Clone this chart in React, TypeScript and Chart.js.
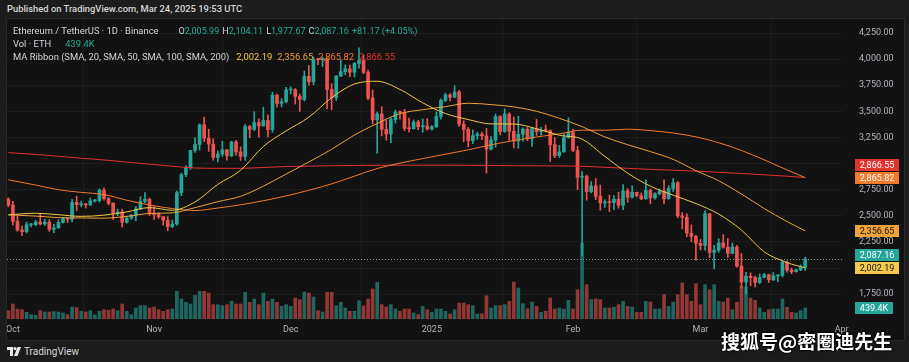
import React, { useEffect, useRef } from 'react';
import { Chart, registerables } from 'chart.js';

Chart.register(...registerables);

// Days are counted from Oct 1, 2024 (= 0). First candle is Sep 30, 2024.
const firstDay = -1;

// ETH/USDT daily candles, Sep 30 2024 .. Mar 24 2025
const opens = [
  2659,
  2603, 2447, 2364, 2349, 2414, 2415, 2441, 2422, 2440, 2371, 2385, 2437, 2476, 2469, 2629, 2607, 2611, 2604, 2643, 2647, 2747, 2665, 2621, 2525, 2536, 2438, 2478, 2507, 2567, 2639, 2659,
  2518, 2513, 2492, 2458, 2397, 2422, 2722, 2895, 2962, 3127, 3183, 3372, 3243, 3187, 3059, 3091, 3132, 3075, 3207, 3112, 3070, 3355, 3327, 3393, 3361, 3413, 3326, 3655, 3576, 3592,
  3705, 3707, 3643, 3614, 3835, 3784, 3998, 3995, 4006, 3711, 3629, 3837, 3880, 3907, 3874, 3958, 3986, 3874, 3627, 3419, 3475, 3328, 3284, 3421, 3493, 3488, 3336, 3334, 3397, 3353, 3360,
  3332, 3353, 3451, 3605, 3657, 3636, 3685, 3378, 3328, 3220, 3267, 3282, 3266, 3138, 3225, 3451, 3307, 3474, 3310, 3216, 3280, 3330, 3240, 3337, 3307, 3318, 3316, 3180, 3077, 3112, 3249,
  3300, 3125, 2869, 2880, 2732, 2786, 2686, 2624, 2632, 2627, 2659, 2601, 2738, 2677, 2725, 2693, 2662, 2744, 2672, 2712, 2738, 2663, 2762, 2817, 2500, 2486, 2335, 2302,
  2237, 2217, 2520, 2150, 2171, 2241, 2200, 2141, 2202, 2020, 1866, 1922, 1909, 1862, 1911, 1937, 1888, 1926, 1932, 2057, 1981, 1966, 1983, 2005.99,
];
const highs = [
  2673,
  2640, 2498, 2403, 2441, 2428, 2456, 2521, 2467, 2464, 2418, 2463, 2485, 2479, 2659, 2689, 2642, 2620, 2672, 2659, 2759, 2769, 2674, 2625, 2565, 2564, 2497, 2511, 2590, 2683, 2722, 2671,
  2590, 2530, 2493, 2492, 2460, 2737, 2909, 2982, 3128, 3248, 3380, 3446, 3330, 3238, 3122, 3214, 3137, 3215, 3222, 3160, 3374, 3366, 3497, 3428, 3540, 3466, 3683, 3666, 3622, 3730,
  3734, 3719, 3665, 3886, 3941, 4021, 4010, 4018, 4010, 3765, 3843, 3992, 3945, 3942, 3968, 4107, 4040, 3896, 3705, 3495, 3545, 3414, 3440, 3513, 3504, 3520, 3436, 3418, 3415, 3427, 3430,
  3363, 3495, 3620, 3675, 3670, 3745, 3702, 3410, 3346, 3323, 3301, 3301, 3337, 3259, 3475, 3460, 3525, 3487, 3446, 3454, 3343, 3346, 3347, 3425, 3347, 3370, 3322, 3250, 3175, 3284, 3438,
  3331, 3165, 2925, 2889, 2828, 2856, 2795, 2653, 2698, 2694, 2726, 2800, 2760, 2788, 2728, 2720, 2846, 2757, 2724, 2757, 2846, 2790, 2856, 2830, 2530, 2520, 2413, 2313,
  2275, 2550, 2524, 2217, 2281, 2320, 2283, 2240, 2217, 2140, 1960, 1955, 1923, 1944, 1950, 1941, 1958, 1933, 2072, 2068, 2000, 1990, 2030, 2104.11,
];
const lows = [
  2586,
  2414, 2352, 2310, 2337, 2395, 2406, 2413, 2409, 2352, 2339, 2381, 2430, 2436, 2441, 2550, 2586, 2575, 2600, 2631, 2632, 2650, 2605, 2465, 2502, 2393, 2430, 2467, 2453, 2560, 2623, 2503,
  2465, 2475, 2410, 2357, 2387, 2410, 2693, 2876, 2944, 3107, 3130, 3209, 3117, 3032, 3018, 3069, 3032, 3065, 3080, 3031, 3030, 3248, 3316, 3254, 3360, 3255, 3300, 3540, 3542, 3581,
  3666, 3570, 3500, 3600, 3750, 3755, 3947, 3930, 3525, 3515, 3604, 3835, 3850, 3832, 3830, 3914, 3860, 3610, 3380, 3100, 3266, 3225, 3200, 3388, 3425, 3315, 3300, 3330, 3325, 3300, 3320,
  3320, 3345, 3425, 3592, 3600, 3630, 3355, 3208, 3160, 3190, 3232, 3228, 2910, 3132, 3158, 3274, 3300, 3224, 3150, 3146, 3215, 3220, 3165, 3270, 3272, 3305, 3020, 3057, 3060, 3110, 3243,
  3115, 2750, 2120, 2650, 2720, 2655, 2555, 2580, 2540, 2560, 2573, 2560, 2630, 2670, 2681, 2655, 2662, 2616, 2660, 2700, 2615, 2660, 2735, 2482, 2375, 2300, 2252, 2077,
  2173, 2172, 2100, 1993, 2150, 2190, 2103, 2138, 2010, 1810, 1755, 1830, 1821, 1850, 1906, 1862, 1880, 1870, 1915, 1960, 1946, 1962, 1976, 1977.67,
];
const closes = [
  2603,
  2447, 2364, 2349, 2414, 2415, 2441, 2422, 2440, 2371, 2385, 2437, 2476, 2469, 2629, 2607, 2611, 2604, 2643, 2647, 2747, 2665, 2621, 2525, 2536, 2438, 2478, 2507, 2567, 2639, 2659, 2518,
  2513, 2492, 2458, 2397, 2422, 2722, 2895, 2962, 3127, 3183, 3372, 3243, 3187, 3059, 3091, 3132, 3075, 3207, 3112, 3070, 3355, 3327, 3393, 3361, 3413, 3326, 3655, 3576, 3592, 3705,
  3707, 3643, 3614, 3835, 3784, 3998, 3995, 4006, 3711, 3629, 3837, 3880, 3907, 3874, 3958, 3986, 3874, 3627, 3419, 3475, 3328, 3284, 3421, 3493, 3488, 3336, 3334, 3397, 3353, 3360, 3332,
  3353, 3451, 3605, 3657, 3636, 3685, 3378, 3328, 3220, 3267, 3282, 3266, 3138, 3225, 3451, 3307, 3474, 3310, 3216, 3280, 3330, 3240, 3337, 3307, 3318, 3316, 3180, 3077, 3112, 3249, 3300,
  3125, 2869, 2880, 2732, 2786, 2686, 2624, 2632, 2627, 2659, 2601, 2738, 2677, 2725, 2693, 2662, 2744, 2672, 2712, 2738, 2663, 2762, 2817, 2500, 2486, 2335, 2302, 2237,
  2217, 2520, 2150, 2171, 2241, 2200, 2141, 2202, 2020, 1866, 1922, 1909, 1862, 1911, 1937, 1888, 1926, 1932, 2057, 1981, 1966, 1983, 2005.99, 2087.16,
];
// volume, thousands of ETH
const volumes = [
  333,
  600, 400, 373, 267, 173, 147, 333, 280, 280, 293, 280, 240, 173, 480, 453, 307, 280, 333, 160, 307, 373, 347, 400, 333, 600, 307, 173, 440, 533, 533, 440,
  480, 373, 307, 373, 400, 1107, 800, 667, 600, 947, 1107, 1107, 1040, 573, 573, 533, 573, 707, 600, 600, 1067, 667, 800, 573, 1040, 707, 800, 667, 507, 573,
  507, 840, 773, 1080, 1040, 880, 333, 280, 1067, 1067, 533, 667, 440, 307, 307, 733, 533, 800, 1200, 1467, 573, 480, 573, 400, 307, 400, 400, 240, 173, 507, 373,
  267, 400, 400, 307, 200, 373, 640, 640, 573, 533, 200, 213, 933, 440, 533, 533, 573, 707, 1480, 1240, 613, 413, 680, 507, 267, 307, 840, 400, 440, 400, 747,
  400, 1173, 3040, 1373, 773, 800, 773, 440, 440, 467, 573, 707, 507, 480, 267, 267, 707, 680, 400, 400, 973, 507, 680, 973, 1440, 973, 707, 1413,
  573, 1373, 1173, 1373, 707, 680, 840, 373, 667, 1307, 1280, 840, 747, 440, 267, 373, 400, 400, 800, 467, 267, 240, 333, 439.4,
];

// MA ribbon, read at sample days
const maDays = [-1, 5, 10, 15, 20, 25, 30, 35, 40, 45, 50, 55, 60, 65, 70, 75, 80, 85, 90, 95, 100, 105, 110, 115, 120, 125, 130, 135, 140, 145, 150, 155, 160, 165, 170, 174];
const sma20 = [2510, 2525, 2511, 2495, 2507, 2538, 2579, 2554, 2633, 2801, 2936, 3164, 3313, 3444, 3631, 3762, 3788, 3710, 3582, 3479, 3422, 3380, 3379, 3334, 3272, 3234, 3069, 2909, 2784, 2698, 2618, 2517, 2364, 2156, 2053, 2002.19];
const sma50 = [2510, 2498, 2483, 2480, 2478, 2495, 2523, 2529, 2579, 2636, 2687, 2784, 2900, 3016, 3137, 3274, 3384, 3478, 3516, 3545, 3578, 3565, 3543, 3501, 3434, 3354, 3255, 3181, 3115, 3041, 2933, 2836, 2709, 2570, 2446, 2356.65];
const sma100 = [2845, 2795, 2750, 2725, 2704, 2650, 2604, 2570, 2551, 2575, 2606, 2645, 2691, 2745, 2806, 2880, 2953, 3005, 3048, 3090, 3132, 3180, 3221, 3255, 3285, 3320, 3319, 3330, 3316, 3293, 3256, 3200, 3126, 3036, 2940, 2865.82];
const sma200 = [3105, 3088, 3070, 3052, 3035, 3015, 2995, 2975, 2958, 2955, 2955, 2963, 2972, 2976, 2980, 2982, 2984, 2985, 2985, 2985, 2984, 2982, 2980, 2979, 2978, 2975, 2965, 2955, 2945, 2937, 2928, 2917, 2905, 2893, 2880, 2866.55];

const monthDays = [0, 31, 61, 92, 123, 151, 182];
const monthLabels = ['Oct', 'Nov', 'Dec', '2025', 'Feb', 'Mar', 'Apr'];
const priceGrid = [1750, 2000, 2250, 2500, 2750, 3000, 3250, 3500, 3750, 4000, 4250];
const priceLabels = [1750, 2250, 2500, 2750, 3250, 3500, 3750, 4000, 4250];

const UP = '#26a69a';
const DOWN = '#ef5350';
const UP_VOL = 'rgba(38,166,154,0.58)';
const DOWN_VOL = 'rgba(239,83,80,0.58)';
const C20 = '#f2c94c';
const C50 = '#eea23a';
const C100 = '#f27a2a';
const C200 = '#e0342e';
const TEAL_TXT = '#22ab94';
const FONT = 'Roboto, "Noto Sans", sans-serif';

const fmt = (v: number) => v.toLocaleString('en-US', { minimumFractionDigits: 2, maximumFractionDigits: 2 });

export default function App() {
  const ref = useRef<HTMLCanvasElement>(null);
  const last = closes.length - 1;

  useEffect(() => {
    const canvas = ref.current!;
    const days = closes.map((_, i) => firstDay + i);
    const isUp = closes.map((c, i) => c >= opens[i]);
    const candleCol = isUp.map((u) => (u ? UP : DOWN));
    const volCol = isUp.map((u) => (u ? UP_VOL : DOWN_VOL));

    const maLine = (vals: number[], color: string, order: number) => ({
      type: 'line' as const,
      data: maDays.map((d, i) => ({ x: d, y: vals[i] })),
      borderColor: color,
      borderWidth: 1,
      pointRadius: 0,
      cubicInterpolationMode: 'monotone' as const,
      yAxisID: 'y',
      order,
    });

    const tagsPlugin = {
      id: 'tags',
      beforeDatasetsDraw(chart: any) {
        const { ctx, chartArea, scales } = chart;
        const ly = Math.round(scales.y.getPixelForValue(closes[last])) + 0.5;
        ctx.save();
        ctx.strokeStyle = 'rgba(130,175,170,0.9)';
        ctx.lineWidth = 1;
        ctx.setLineDash([1, 2]);
        ctx.beginPath();
        ctx.moveTo(chartArea.left, ly);
        ctx.lineTo(chartArea.right, ly);
        ctx.stroke();
        ctx.restore();
      },
      afterDraw(chart: any) {
        const { ctx, chartArea, scales } = chart;
        const tags = [
          { v: sma20[sma20.length - 1], bg: C20, fg: '#131313', scale: 'y', text: fmt(sma20[sma20.length - 1]) },
          { v: closes[last], bg: UP, fg: '#ffffff', scale: 'y', text: fmt(closes[last]) },
          { v: sma50[sma50.length - 1], bg: C50, fg: '#131313', scale: 'y', text: fmt(sma50[sma50.length - 1]) },
          { v: sma100[sma100.length - 1], bg: C100, fg: '#ffffff', scale: 'y', text: fmt(sma100[sma100.length - 1]) },
          { v: sma200[sma200.length - 1], bg: C200, fg: '#ffffff', scale: 'y', text: fmt(sma200[sma200.length - 1]) },
        ].sort((a, b) => a.v - b.v);
        const h = 12;
        let prev = Infinity;
        const placed = tags.map((t) => {
          const py = scales.y.getPixelForValue(t.v);
          const y = Math.min(py, prev - (h + 1));
          prev = y;
          return { ...t, y };
        });
        placed.push({ v: volumes[last], bg: UP, fg: '#ffffff', scale: 'yv', text: volumes[last].toFixed(1) + 'K', y: scales.yv.getPixelForValue(volumes[last]) });
        ctx.save();
        ctx.font = `9px ${FONT}`;
        ctx.textAlign = 'center';
        ctx.textBaseline = 'middle';
        const x0 = chartArea.right + 12;
        placed.forEach((t) => {
          const w = t.scale === 'yv' ? 38 : 44;
          const top = Math.round(t.y - h / 2);
          ctx.fillStyle = t.bg;
          ctx.fillRect(x0, top, w, h);
          ctx.fillStyle = t.fg;
          ctx.fillText(t.text, x0 + w / 2, top + h / 2 + 0.5);
        });
        ctx.restore();
      },
    };

    const chart = new Chart(canvas, {
      type: 'bar',
      data: {
        datasets: [
          {
            type: 'bar',
            data: days.map((d, i) => ({ x: d, y: volumes[i] })),
            backgroundColor: volCol,
            barThickness: 3,
            grouped: false,
            yAxisID: 'yv',
            order: 10,
          } as any,
          {
            type: 'bar',
            data: days.map((d, i) => ({ x: d, y: [lows[i], highs[i]] })),
            backgroundColor: candleCol,
            barThickness: 1,
            grouped: false,
            yAxisID: 'y',
            order: 6,
          } as any,
          {
            type: 'bar',
            data: days.map((d, i) => ({ x: d, y: [opens[i], closes[i]] })),
            backgroundColor: candleCol,
            barThickness: 3,
            minBarLength: 1,
            grouped: false,
            yAxisID: 'y',
            order: 5,
          } as any,
          maLine(sma200, C200, 4) as any,
          maLine(sma100, C100, 3) as any,
          maLine(sma50, C50, 2) as any,
          maLine(sma20, C20, 1) as any,
        ],
      },
      options: {
        animation: false,
        responsive: false,
        devicePixelRatio: 1,
        layout: { padding: 0 },
        plugins: { legend: { display: false }, tooltip: { enabled: false } },
        scales: {
          x: {
            type: 'linear',
            min: -1.3,
            max: 182.3,
            offset: false,
            grid: { color: 'rgba(255,255,255,0.045)', drawTicks: false },
            border: { display: false },
            ticks: {
              color: '#b2b5be',
              font: { size: 9, family: FONT },
              padding: 5,
              autoSkip: false,
              maxRotation: 0,
              callback: (v: any) => {
                const k = monthDays.indexOf(Number(v));
                return k >= 0 ? monthLabels[k] : '';
              },
            },
            afterBuildTicks: (s: any) => {
              s.ticks = monthDays.map((v) => ({ value: v }));
            },
            afterFit: (s: any) => {
              s.height = 21;
              s.paddingLeft = 0;
              s.paddingRight = 0;
            },
          },
          y: {
            position: 'right',
            min: 1513,
            max: 4384,
            grid: { color: 'rgba(255,255,255,0.045)', drawTicks: false },
            border: { display: false },
            ticks: {
              color: '#b2b5be',
              font: { size: 9, family: FONT },
              padding: 16,
              callback: (v: any) => (priceLabels.includes(Number(v)) ? fmt(Number(v)) : ''),
            },
            afterBuildTicks: (s: any) => {
              s.ticks = priceGrid.map((v) => ({ value: v }));
            },
            afterFit: (s: any) => {
              s.width = 61;
              s.paddingTop = 0;
              s.paddingBottom = 0;
            },
          },
          yv: {
            display: false,
            min: 0,
            max: 12000,
          },
        },
      } as any,
      plugins: [tagsPlugin],
    });
    return () => chart.destroy();
  }, []);

  const chg = closes[last] - closes[last - 1];
  const pct = (chg / closes[last - 1]) * 100;
  const lbl: React.CSSProperties = { color: '#d1d4dc' };
  const val: React.CSSProperties = { color: TEAL_TXT };
  const gap: React.CSSProperties = { marginLeft: 5 };
  const g1: React.CSSProperties = { marginLeft: 3, fontSize: 9 };

  return (
    <div style={{ position: 'fixed', left: 0, top: 0, width: 909, height: 362, background: '#1c1c1c', overflow: 'hidden', fontFamily: FONT }}>
      <div style={{ position: 'absolute', left: 7, top: 3, fontSize: 9.4, fontWeight: 500, color: '#d6d6d6', whiteSpace: 'nowrap' }}>
        Published on TradingView.com, Mar 24, 2025 19:53 UTC
      </div>
      <div style={{ position: 'absolute', left: 6, top: 18, width: 899, height: 323, background: '#121212', border: '1px solid #2a2a2a', boxSizing: 'border-box' }} />
      <canvas ref={ref} width={897} height={321} style={{ position: 'absolute', left: 7, top: 19, width: 897, height: 321 }} />
      <div style={{ position: 'absolute', left: 13, top: 25, fontSize: 9.4, lineHeight: '12.8px', whiteSpace: 'nowrap', color: '#d1d4dc' }}>
        <div>
          <span style={lbl}>Ethereum / TetherUS · 1D · Binance</span>
          <span style={{ ...g1, marginLeft: 20 }}>O<span style={val}>{fmt(opens[last])}</span></span>
          <span style={g1}>H<span style={val}>{fmt(highs[last])}</span></span>
          <span style={g1}>L<span style={val}>{fmt(lows[last])}</span></span>
          <span style={g1}>C<span style={val}>{fmt(closes[last])}</span></span>
          <span style={{ ...g1, ...val }}>{(chg >= 0 ? '+' : '') + chg.toFixed(2)} ({(pct >= 0 ? '+' : '') + pct.toFixed(2)}%)</span>
        </div>
        <div>
          <span style={lbl}>Vol · ETH</span>
          <span style={{ ...gap, marginLeft: 14, ...val }}>{volumes[last].toFixed(1)}K</span>
        </div>
        <div>
          <span style={lbl}>MA Ribbon (SMA, 20, SMA, 50, SMA, 100, SMA, 200)</span>
          <span style={{ ...gap, marginLeft: 7, color: C20 }}>{fmt(sma20[sma20.length - 1])}</span>
          <span style={{ ...gap, color: C50 }}>{fmt(sma50[sma50.length - 1])}</span>
          <span style={{ ...gap, color: C100 }}>{fmt(sma100[sma100.length - 1])}</span>
          <span style={{ ...gap, color: C200 }}>{fmt(sma200[sma200.length - 1])}</span>
        </div>
      </div>
      <div style={{ position: 'absolute', left: 721, top: 327, fontSize: 19, fontWeight: 700, color: '#ffffff', fontFamily: '"Noto Sans CJK SC", sans-serif', whiteSpace: 'nowrap', textShadow: '0 0 2px #000, 0 0 2px #000, 0 0 3px #000' }}>
        搜狐号@密圈迪先生
      </div>
      <div style={{ position: 'absolute', left: 7, top: 346, display: 'flex', alignItems: 'center', color: '#d6d6d6', fontSize: 10, whiteSpace: 'nowrap' }}>
        <svg width="14" height="9" viewBox="0 0 14 9" style={{ marginRight: 3 }}>
          <path d="M0 0h6v9H3V3H0z" fill="#e8e8e8" />
          <circle cx="8" cy="1.6" r="1.6" fill="#e8e8e8" />
          <path d="M10.5 0H14L10.5 9H7z" fill="#e8e8e8" />
        </svg>
        <span>TradingView</span>
      </div>
    </div>
  );
}
